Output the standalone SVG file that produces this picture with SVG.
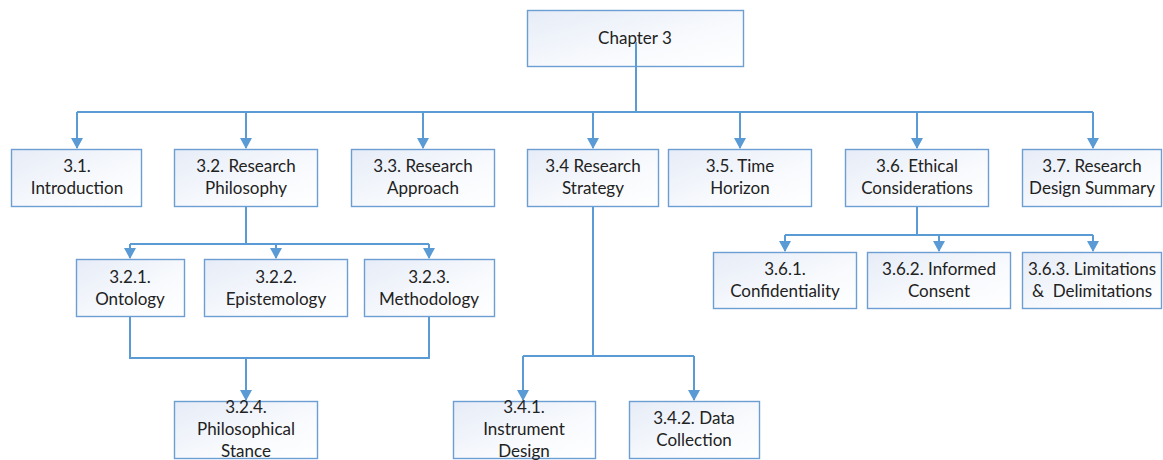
<svg xmlns="http://www.w3.org/2000/svg" width="1163" height="460" viewBox="0 0 1163 460">
  <defs>
    <linearGradient id="boxFill" x1="0" y1="0" x2="1" y2="1">
      <stop offset="0" stop-color="#e6ecf7"/>
      <stop offset="0.6" stop-color="#f8fafd"/>
      <stop offset="1" stop-color="#ffffff"/>
    </linearGradient>
    <marker id="arrow" markerUnits="userSpaceOnUse" markerWidth="12" markerHeight="12" viewBox="0 0 12 12" refX="10" refY="6" orient="auto">
      <path d="M0,0 L11,6 L0,12 Z" fill="#5b9bd5"/>
    </marker>
    <style>
      .box { fill: url(#boxFill); stroke: #6d9ed3; stroke-width: 1.4; }
      .lbl { font-family: Lato, "Open Sans", "Liberation Sans", sans-serif; font-size: 17px; fill: #222222; text-anchor: middle; white-space: pre; }
      .wire { fill: none; stroke: #5b9bd5; stroke-width: 2; }
      .arr { fill: none; stroke: #5b9bd5; stroke-width: 2; marker-end: url(#arrow); }
    </style>
  </defs>

  <rect width="1163" height="460" fill="#ffffff"/>

  <!-- nodes -->
  <g id="chapter3">
    <rect class="box" x="527.5" y="10.5" width="216" height="56"/>
    <text class="lbl" x="635" y="44">Chapter 3</text>
  </g>

  <g id="n3-1">
    <rect class="box" x="11.5" y="149.5" width="130" height="57"/>
    <text class="lbl" x="77" y="172">3.1.</text>
    <text class="lbl" x="77" y="194">Introduction</text>
  </g>
  <g id="n3-2">
    <rect class="box" x="174.5" y="149.5" width="143" height="57"/>
    <text class="lbl" x="246" y="172">3.2. Research</text>
    <text class="lbl" x="246" y="194">Philosophy</text>
  </g>
  <g id="n3-3">
    <rect class="box" x="351.5" y="149.5" width="143" height="57"/>
    <text class="lbl" x="423" y="172">3.3. Research</text>
    <text class="lbl" x="423" y="194">Approach</text>
  </g>
  <g id="n3-4">
    <rect class="box" x="527.5" y="149.5" width="131" height="57"/>
    <text class="lbl" x="593" y="172">3.4 Research</text>
    <text class="lbl" x="593" y="194">Strategy</text>
  </g>
  <g id="n3-5">
    <rect class="box" x="668.5" y="149.5" width="143" height="57"/>
    <text class="lbl" x="740" y="172">3.5. Time</text>
    <text class="lbl" x="740" y="194">Horizon</text>
  </g>
  <g id="n3-6">
    <rect class="box" x="845.5" y="149.5" width="143" height="57"/>
    <text class="lbl" x="917" y="172">3.6. Ethical</text>
    <text class="lbl" x="917" y="194">Considerations</text>
  </g>
  <g id="n3-7">
    <rect class="box" x="1022.5" y="149.5" width="139" height="57"/>
    <text class="lbl" x="1092" y="172">3.7. Research</text>
    <text class="lbl" x="1092" y="194">Design Summary</text>
  </g>

  <g id="n3-2-1">
    <rect class="box" x="76.5" y="259.5" width="108" height="57"/>
    <text class="lbl" x="130" y="283">3.2.1.</text>
    <text class="lbl" x="130" y="305">Ontology</text>
  </g>
  <g id="n3-2-2">
    <rect class="box" x="204.5" y="259.5" width="143" height="57"/>
    <text class="lbl" x="276" y="283">3.2.2.</text>
    <text class="lbl" x="276" y="305">Epistemology</text>
  </g>
  <g id="n3-2-3">
    <rect class="box" x="364.5" y="259.5" width="130" height="57"/>
    <text class="lbl" x="429" y="283">3.2.3.</text>
    <text class="lbl" x="429" y="305">Methodology</text>
  </g>
  <g id="n3-2-4">
    <rect class="box" x="174.5" y="401.5" width="143" height="57"/>
    <text class="lbl" x="246" y="413">3.2.4.</text>
    <text class="lbl" x="246" y="435">Philosophical</text>
    <text class="lbl" x="246" y="457">Stance</text>
  </g>

  <g id="n3-4-1">
    <rect class="box" x="453.5" y="401.5" width="142" height="57"/>
    <text class="lbl" x="524" y="413">3.4.1.</text>
    <text class="lbl" x="524" y="435">Instrument</text>
    <text class="lbl" x="524" y="457">Design</text>
  </g>
  <g id="n3-4-2">
    <rect class="box" x="629.5" y="401.5" width="130" height="57"/>
    <text class="lbl" x="694" y="424">3.4.2. Data</text>
    <text class="lbl" x="694" y="446">Collection</text>
  </g>

  <g id="n3-6-1">
    <rect class="box" x="713.5" y="252.5" width="143" height="56"/>
    <text class="lbl" x="785" y="275">3.6.1.</text>
    <text class="lbl" x="785" y="297">Confidentiality</text>
  </g>
  <g id="n3-6-2">
    <rect class="box" x="867.5" y="252.5" width="143" height="56"/>
    <text class="lbl" x="939" y="275">3.6.2. Informed</text>
    <text class="lbl" x="939" y="297">Consent</text>
  </g>
  <g id="n3-6-3">
    <rect class="box" x="1022.5" y="252.5" width="139" height="56"/>
    <text class="lbl" x="1092" y="275">3.6.3. Limitations</text>
    <text class="lbl" x="1092" y="297">&amp;  Delimitations</text>
  </g>

  <!-- connectors -->
  <g id="connectors">
    <!-- chapter trunk and top bus -->
    <path class="wire" d="M636,42 V112"/>
    <path class="wire" d="M77,112 H1093"/>
    <path class="arr" d="M77,112 V148"/>
    <path class="arr" d="M246,112 V148"/>
    <path class="arr" d="M423,112 V148"/>
    <path class="arr" d="M593,112 V148"/>
    <path class="arr" d="M740,112 V148"/>
    <path class="arr" d="M917,112 V148"/>
    <path class="arr" d="M1093,112 V148"/>

    <!-- 3.2 branch -->
    <path class="wire" d="M246,207 V244"/>
    <path class="wire" d="M130,244 H429"/>
    <path class="arr" d="M130,244 V258"/>
    <path class="arr" d="M276,244 V258"/>
    <path class="arr" d="M429,244 V258"/>

    <!-- merge into 3.2.4 -->
    <path class="wire" d="M130,317 V358 H429 V317"/>
    <path class="arr" d="M246,358 V400"/>

    <!-- 3.4 branch -->
    <path class="wire" d="M593,207 V356"/>
    <path class="wire" d="M523,356 H694"/>
    <path class="arr" d="M523,356 V400"/>
    <path class="arr" d="M694,356 V400"/>

    <!-- 3.6 branch -->
    <path class="wire" d="M917,207 V235"/>
    <path class="wire" d="M785,235 H1093"/>
    <path class="arr" d="M785,235 V251"/>
    <path class="arr" d="M939,235 V251"/>
    <path class="arr" d="M1093,235 V251"/>
  </g>
</svg>
